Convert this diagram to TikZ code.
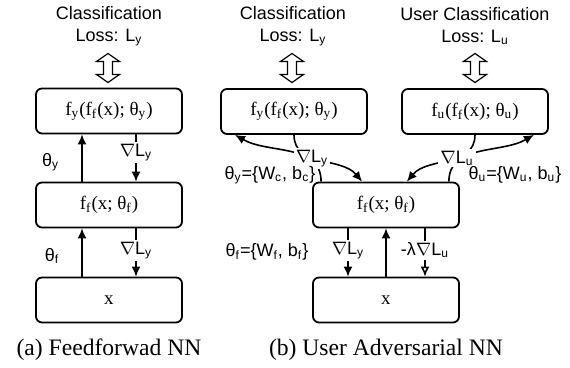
\documentclass[tikz,border=0pt]{standalone}
\usepackage{fontspec}
\setmainfont{Liberation Serif}
\setsansfont{Liberation Sans}
\usetikzlibrary{arrows.meta,positioning,calc}
\newcommand{\gradL}[1]{$\nabla$L\textsubscript{#1}}

\begin{document}
\begin{tikzpicture}[x=0.5pt,y=-0.5pt,>={Latex[length=5pt,width=4.5pt]},
  box/.style={draw,line width=0.9pt,rounded corners=3pt,minimum width=73pt,minimum height=22.5pt,inner sep=0,font=\fontsize{9.5}{11}\selectfont},
  lbl/.style={font=\sffamily\fontsize{9}{11}\selectfont,inner sep=1pt},
  loss/.style={lbl,align=center},
  dblarrow/.pic={\draw[line width=0.6pt,fill=white] (0,-14.5) -- (11.5,-6.5) -- (4.5,-6.5) -- (4.5,6.5) -- (11.5,6.5) -- (0,14.5) -- (-11.5,6.5) -- (-4.5,6.5) -- (-4.5,-6.5) -- (-11.5,-6.5) -- cycle;},
  captext/.style={font=\fontsize{11.8}{14}\selectfont},
  arr/.style={line width=0.8pt}]
\useasboundingbox (0,0) rectangle (570,368);
% (a) feedforward
\node[loss] (lossA) at (109,26) {Classification\\Loss: L\textsubscript{y}};
\pic (dblA) at (108,68) {dblarrow};
\node[box] (fyA) at (109,111) {f\textsubscript{y}(f\textsubscript{f}(x); θ\textsubscript{y})};
\node[box] (ffA) at (109,205) {f\textsubscript{f}(x; θ\textsubscript{f})};
\node[box] (xA) at (109,300) {x};
\draw[arr,->] ($(ffA.north)+(-27,0)$) -- ($(fyA.south)+(-27,0)$) node[lbl,pos=0.4,left=10pt] {θ\textsubscript{y}};
\draw[arr,->] ($(fyA.south)+(27,0)$) -- ($(ffA.north)+(27,0)$) node[lbl,fill=white,pos=0.38] {\gradL{y}};
\draw[arr,->] ($(xA.north)+(-27,0)$) -- ($(ffA.south)+(-27,0)$) node[lbl,pos=0.43,left=10pt] {θ\textsubscript{f}};
\draw[arr,->] ($(ffA.south)+(27,0)$) -- ($(xA.north)+(27,0)$) node[lbl,fill=white,pos=0.45] {\gradL{y}};
\node[captext] (capA) at (109,350) {(a) Feedforwad NN};
% (b) user adversarial
\node[loss] (lossB) at (293,26) {Classification\\Loss: L\textsubscript{y}};
\pic (dblB) at (292,68) {dblarrow};
\node[loss] (lossC) at (475,26) {User Classification\\Loss: L\textsubscript{u}};
\pic (dblC) at (475,68) {dblarrow};
\node[box] (fyB) at (294,111.5) {f\textsubscript{y}(f\textsubscript{f}(x); θ\textsubscript{y})};
\node[box] (fuB) at (475,111.5) {f\textsubscript{u}(f\textsubscript{f}(x); θ\textsubscript{u})};
\node[box] (ffB) at (386,205) {f\textsubscript{f}(x; θ\textsubscript{f})};
\node[box] (xB) at (386,300) {x};
\draw[arr,->] ($(ffB.north west)+(9,0)$) to[out=90,in=-30] ($(fyB.south west)+(15,0)$);
\draw[arr,->] ($(ffB.north east)+(-11,0)$) to[out=90,in=-150] ($(fuB.south east)+(-15,0)$);
\draw[arr,->] (fyB.south) to[out=-90,in=130] node[lbl,fill=white,pos=0.4] {\gradL{y}} ($(ffB.north west)+(50,0)$);
\draw[arr,->] (fuB.south) to[out=-90,in=50] node[lbl,fill=white,pos=0.4] {\gradL{u}} ($(ffB.north east)+(-53,0)$);
\node[lbl] (thyB) at (270,175) {θ\textsubscript{y}=\{W\textsubscript{c}, b\textsubscript{c}\}};
\node[lbl] (thuB) at (515,175) {θ\textsubscript{u}=\{W\textsubscript{u}, b\textsubscript{u}\}};
\node[lbl] (thfB) at (267,252) {θ\textsubscript{f}=\{W\textsubscript{f}, b\textsubscript{f}\}};
\draw[arr,->] ($(ffB.south)+(-38,0)$) -- ($(xB.north)+(-38,0)$) node[lbl,fill=white,pos=0.45] {\gradL{y}};
\draw[arr,->] (xB.north) -- (ffB.south);
\draw[arr,-{Latex[open,length=5pt,width=4.5pt]}] ($(ffB.south)+(39,0)$) -- ($(xB.north)+(39,0)$) node[lbl,fill=white,pos=0.45] {-λ\gradL{u}};
\node[captext] (capB) at (386,350) {(b) User Adversarial NN};
\end{tikzpicture}
\end{document}
